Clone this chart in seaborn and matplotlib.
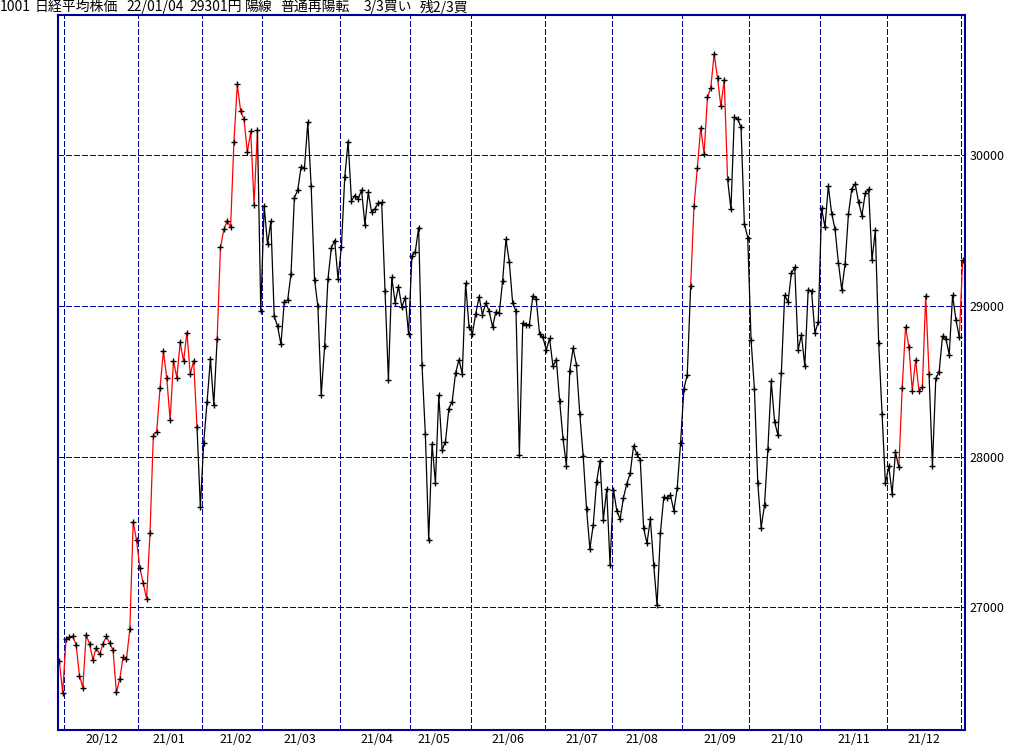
import numpy as np
import pandas as pd
import matplotlib
matplotlib.use("Agg")
import matplotlib.pyplot as plt
import seaborn as sns

# ---------------- data (Nikkei 225 daily closes) ----------------
close_2020_11 = [26644.71, 26433.62]
close_2020_12 = [26787.54, 26800.98, 26809.37, 26751.24, 26547.44, 26467.08, 26817.94, 26756.24,
                 26652.52, 26732.44, 26687.84, 26757.40, 26806.67, 26763.39, 26714.42, 26436.39,
                 26524.79, 26668.35, 26656.61, 26854.03, 27568.15, 27444.17]
close_2021_01 = [27258.38, 27158.63, 27055.94, 27490.13, 28139.03, 28164.34, 28456.59, 28698.26,
                 28519.18, 28242.21, 28633.46, 28523.26, 28756.86, 28631.45, 28822.29, 28546.18,
                 28635.21, 28197.42, 27663.39]
close_2021_02 = [28091.05, 28362.17, 28646.50, 28341.95, 28779.19, 29388.50, 29505.93, 29562.93,
                 29520.07, 30084.15, 30467.75, 30292.19, 30236.09, 30017.92, 30156.03, 29671.70,
                 30168.27, 28966.01]
close_2021_03 = [29663.50, 29408.17, 29559.10, 28930.11, 28864.32, 28743.25, 29027.94, 29036.56,
                 29211.64, 29717.83, 29766.97, 29921.09, 29914.33, 30216.75, 29792.05, 29174.15,
                 28995.92, 28405.52, 28729.88, 29176.70, 29384.52, 29432.70, 29178.80]
close_2021_04 = [29388.87, 29854.00, 30089.25, 29696.63, 29730.79, 29708.98, 29768.06, 29538.73,
                 29751.61, 29620.99, 29642.69, 29683.37, 29685.37, 29100.38, 28508.55, 29188.17,
                 29020.63, 29126.23, 28991.89, 29053.97, 28812.63]
close_2021_05 = [29331.37, 29357.82, 29518.34, 28608.59, 28147.51, 27448.01, 28084.47, 27824.83,
                 28406.84, 28044.45, 28098.25, 28317.83, 28364.61, 28553.98, 28642.19, 28549.01,
                 29149.41, 28860.08]
close_2021_06 = [28814.34, 28946.14, 29058.11, 28941.52, 29019.24, 28963.56, 28860.80, 28958.56,
                 28948.73, 29161.80, 29441.30, 29291.01, 29018.33, 28964.08, 28010.93, 28884.13,
                 28874.89, 28875.23, 29066.18, 29048.02, 28812.61, 28791.53]
close_2021_07 = [28707.04, 28783.28, 28598.19, 28643.21, 28366.95, 28118.03, 27940.42, 28569.02,
                 28718.24, 28608.49, 28279.09, 28003.08, 27652.74, 27388.16, 27548.00, 27833.29,
                 27970.22, 27581.66, 27782.42, 27283.59]
close_2021_08 = [27781.02, 27641.83, 27584.08, 27728.12, 27820.04, 27888.15, 28070.51, 28015.02,
                 27977.15, 27523.19, 27424.47, 27585.91, 27281.17, 27013.25, 27494.24, 27732.10,
                 27724.80, 27742.29, 27641.14, 27789.29, 28089.54]
close_2021_09 = [28451.02, 28543.51, 29128.11, 29659.89, 29916.14, 30181.21, 30008.19, 30381.84,
                 30447.37, 30670.10, 30511.71, 30323.34, 30500.05, 29839.71, 29639.40, 30248.81,
                 30240.06, 30183.96, 29544.29, 29452.66]
close_2021_10 = [28771.07, 28444.89, 27822.12, 27528.87, 27678.21, 28048.94, 28498.20, 28230.61,
                 28140.28, 28550.93, 29068.63, 29025.46, 29215.52, 29255.55, 28708.58, 28804.85,
                 28600.41, 29106.01, 29098.24, 28820.09, 28892.69]
close_2021_11 = [29647.08, 29520.90, 29794.37, 29611.57, 29507.05, 29285.46, 29106.78, 29277.86,
                 29609.97, 29776.80, 29808.12, 29688.33, 29598.66, 29745.87, 29774.11, 29302.66,
                 29499.28, 28751.62, 28283.92, 27821.76]
close_2021_12 = [27935.62, 27753.37, 28029.57, 27927.37, 28455.60, 28860.62, 28725.47, 28437.77,
                 28640.49, 28432.64, 28459.72, 29066.32, 28545.68, 27937.81, 28517.59, 28562.21,
                 28798.37, 28782.59, 28676.46, 29069.16, 28906.88, 28791.71]
close_2022_01 = [29301.79]

# market holidays (weekdays without trading)
holidays = ["2020-12-31", "2021-01-01", "2021-01-11", "2021-02-11", "2021-02-23", "2021-04-29",
            "2021-05-03", "2021-05-04", "2021-05-05", "2021-07-22", "2021-07-23", "2021-08-09",
            "2021-09-20", "2021-09-23", "2021-11-03", "2021-11-23", "2021-12-31", "2022-01-03"]

# periods drawn in red (uptrend signal)
red_spans = [("2020-11-27", "2021-01-28"), ("2021-02-08", "2021-02-25"),
             ("2021-09-06", "2021-09-21"), ("2021-12-07", "2021-12-17"),
             ("2022-01-04", "2022-01-04")]

month_labels = ["20/12", "21/01", "21/02", "21/03", "21/04", "21/05", "21/06",
                "21/07", "21/08", "21/09", "21/10", "21/11", "21/12"]
y_ticks = [27000, 28000, 29000, 30000]

title_parts = ["1001", "日経平均株価", "22/01/04", "29301円", "陽線", "普通再陽転", "3/3買い", "残2/3買"]

# ---------------- build frame ----------------
closes = np.concatenate([close_2020_11, close_2020_12, close_2021_01, close_2021_02, close_2021_03,
                         close_2021_04, close_2021_05, close_2021_06, close_2021_07, close_2021_08,
                         close_2021_09, close_2021_10, close_2021_11, close_2021_12, close_2022_01])
dates = pd.bdate_range("2020-11-27", "2022-01-04").difference(pd.to_datetime(holidays))
n = len(closes)
assert len(dates) == n, (len(dates), n)
idx = np.arange(n)

is_red = np.zeros(n, dtype=bool)
for a, b in red_spans:
    is_red |= (dates >= pd.Timestamp(a)) & (dates <= pd.Timestamp(b))

rows = []
run = -1
for i in range(1, n):
    col = "red" if is_red[i] else "black"
    if i == 1 or is_red[i] != is_red[i - 1]:
        run += 1
        rows.append((run, idx[i - 1], closes[i - 1], col))
    rows.append((run, idx[i], closes[i], col))
seg_df = pd.DataFrame(rows, columns=["run", "idx", "close", "color"])
pts_df = pd.DataFrame({"idx": idx, "close": closes})

# month boundaries and label positions
months = dates.to_period("M")
grid_pos = [i - 0.5 for i in range(1, n) if months[i] != months[i - 1]]
label_pos = []
for lab in month_labels:
    yy, mm = lab.split("/")
    per = pd.Period(f"20{yy}-{mm}", freq="M")
    sel = [i for i in range(n) if months[i] == per and dates[i].day <= 15]
    label_pos.append(sel[-1] + 0.6)

# ---------------- draw ----------------
sns.set_theme(style="white")
plt.rcParams["font.family"] = ["Noto Sans CJK JP", "DejaVu Sans"]

W, H = 1024, 745
fig = plt.figure(figsize=(W / 100, H / 100), dpi=100)
ax = fig.add_axes([58.3 / W, 15 / H, (965 - 58.3) / W, (730 - 14.5) / H])

navy = "#000099"
sns.lineplot(data=seg_df, x="idx", y="close", units="run", estimator=None, hue="color",
             palette={"red": "#ff0000", "black": "#000000"}, sort=False, legend=False,
             linewidth=0.9, ax=ax)
sns.scatterplot(data=pts_df, x="idx", y="close", marker="+", color="black", s=13,
                linewidth=1.0, ax=ax, zorder=3)

ax.set_xlim(-0.3, 269.7)
ax.set_ylim(26186, 30932)

ax.set_xticks(label_pos)
ax.set_xticklabels(month_labels, fontsize=9)
ax.set_xticks(grid_pos, minor=True)
ax.set_yticks(y_ticks)
ax.set_yticklabels([str(v) for v in y_ticks], fontsize=9)
ax.yaxis.tick_right()
ax.tick_params(axis="both", which="both", length=0, colors="black")
ax.tick_params(axis="x", pad=2)
ax.tick_params(axis="y", pad=3)

ax.grid(False)
grid_kw = dict(color="#0000A0", linestyle=(0, (4, 2)), linewidth=1.0, antialiased=False)
ax.grid(True, axis="x", which="minor", **grid_kw)
ax.grid(True, axis="y", which="major", **grid_kw)
ax.set_xlabel("")
ax.set_ylabel("")
for sp in ax.spines.values():
    sp.set_visible(True)
    sp.set_color(navy)
    sp.set_linewidth(1.5)

title_x = [0, 35, 126, 189, 245, 280, 364, 420]
for t, x in zip(title_parts, title_x):
    fig.text(x / W, 1 - 7 / H, t, fontsize=10, ha="left", va="center", color="black")

fig.savefig("out.png", dpi=100)
